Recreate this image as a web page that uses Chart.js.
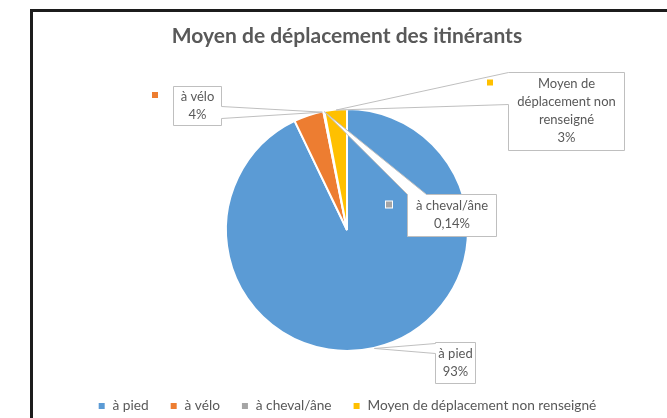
<!DOCTYPE html>
<html lang="fr">
<head>
<meta charset="utf-8">
<script src="https://cdn.jsdelivr.net/npm/chart.js@4.4.1/dist/chart.umd.min.js"></script>
<style>
  html, body { margin: 0; padding: 0; background: #fff; overflow: hidden; }
  #wrap { position: relative; width: 667px; height: 418px; }
  #frame { position: absolute; left: 30px; top: 9px; width: 700px; height: 500px;
           border-left: 3px solid #1c1c1c; border-top: 3px solid #1c1c1c; }
  #chart { position: absolute; left: 0; top: 0; }
</style>
</head>
<body>
<div id="wrap">
  <div id="frame"></div>
  <canvas id="chart" width="667" height="418"></canvas>
</div>
<script>
// ─── data ───────────────────────────────────────────────
const categories = ['à pied', 'à vélo', 'à cheval/âne', 'Moyen de déplacement non renseigné'];
const shares = [93, 4, 0.14, 3];
const shareLabels = ['93%', '4%', '0,14%', '3%'];
const calloutNames = [['à pied'], ['à vélo'], ['à cheval/âne'], ['Moyen de', 'déplacement non', 'renseigné']];
const colors = ['#5B9BD5', '#ED7D31', '#A5A5A5', '#FFC000'];

// callout boxes [x0, y0, x1, y1] and the side the pointer leaves from
const callouts = [
  { box: [435, 342, 475, 383], side: 'left', a: 343, b: 353, at: 0.5, key: false },
  { box: [173, 86, 221, 125], side: 'right', a: 106, b: 118, at: 0.95, key: true },
  { box: [407, 194, 496, 236], side: 'top', a: 407, b: 426, at: 0.5, key: true },
  { box: [508, 72, 624, 150], side: 'left', a: 72, b: 104, at: 0.5, key: true }
];

const FONT = 'Lato';
const TEXT = '#595959';

// Excel-like data callouts drawn after the pie
const calloutPlugin = {
  id: 'callouts',
  afterDatasetsDraw(chart) {
    const ctx = chart.ctx;
    const arcs = chart.getDatasetMeta(0).data;
    ctx.save();
    callouts.forEach((c, i) => {
      const arc = arcs[i];
      const ang = arc.startAngle + (arc.endAngle - arc.startAngle) * c.at;
      const tip = [arc.x + Math.cos(ang) * arc.outerRadius, arc.y + Math.sin(ang) * arc.outerRadius];
      const [x0, y0, x1, y1] = c.box;
      let pts;
      if (c.side === 'left') pts = [[x0, y0], [x1, y0], [x1, y1], [x0, y1], [x0, c.b], tip, [x0, c.a]];
      else if (c.side === 'right') pts = [[x0, y0], [x1, y0], [x1, c.a], tip, [x1, c.b], [x1, y1], [x0, y1]];
      else pts = [[x0, y0], [c.a, y0], tip, [c.b, y0], [x1, y0], [x1, y1], [x0, y1]];

      ctx.beginPath();
      pts.forEach((p, k) => k ? ctx.lineTo(p[0] + 0.5, p[1] + 0.5) : ctx.moveTo(p[0] + 0.5, p[1] + 0.5));
      ctx.closePath();
      ctx.fillStyle = '#fff';
      ctx.fill();
      ctx.strokeStyle = '#BFBFBF';
      ctx.lineWidth = 1;
      ctx.stroke();

      const lines = calloutNames[i].concat(shareLabels[i]);
      const lh = 18;
      const y = (y0 + y1) / 2 - lines.length * lh / 2 + lh / 2;
      ctx.font = '13px ' + FONT;
      ctx.fillStyle = TEXT;
      ctx.textAlign = 'center';
      ctx.textBaseline = 'middle';
      lines.forEach((t, k) => ctx.fillText(t, (x0 + x1) / 2 + 0.5, y + k * lh));

      if (c.key) {
        const kx = x0 - 18, ky = y - 1.5;
        ctx.fillStyle = '#fff';
        ctx.fillRect(kx - 4, ky - 4, 8, 8);
        ctx.fillStyle = colors[i];
        ctx.fillRect(kx - 3, ky - 3, 6, 6);
      }
    });
    ctx.restore();
  }
};

new Chart(document.getElementById('chart'), {
  type: 'pie',
  data: {
    labels: categories,
    datasets: [{
      data: shares,
      backgroundColor: colors,
      borderColor: '#fff',
      borderWidth: 2,
      radius: 121
    }]
  },
  options: {
    responsive: false,
    animation: false,
    events: [],
    layout: { padding: { left: 27, right: 0, top: 0, bottom: -4.85 } },
    plugins: {
      title: {
        display: true,
        text: 'Moyen de déplacement des itinérants',
        color: TEXT,
        font: { family: FONT, size: 21, weight: 'bold' },
        padding: { top: 23.4, bottom: 33.25 }
      },
      legend: {
        position: 'bottom',
        labels: { boxWidth: 8, boxHeight: 8, padding: 21, color: TEXT, font: { family: FONT, size: 13.7 } }
      },
      tooltip: { enabled: false }
    }
  },
  plugins: [calloutPlugin]
});
</script>
</body>
</html>
